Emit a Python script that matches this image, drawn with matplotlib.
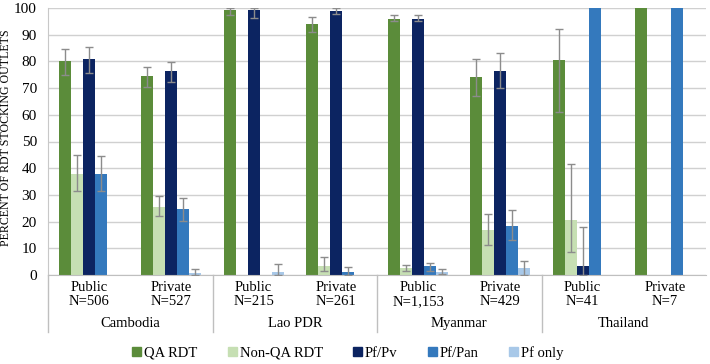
import numpy as np
import matplotlib
matplotlib.use("Agg")
import matplotlib.pyplot as plt
from matplotlib.patches import Patch
import matplotlib.transforms as mtransforms

plt.rcParams['font.family'] = 'serif'
plt.rcParams['font.serif'] = ['Liberation Serif', 'DejaVu Serif']

nan = np.nan
sectors = ['Public', 'Private', 'Public', 'Private', 'Public', 'Private', 'Public', 'Private']
sizes = ['N=506', 'N=527', 'N=215', 'N=261', 'N=1,153', 'N=429', 'N=41', 'N=7']
countries = ['Cambodia', 'Lao PDR', 'Myanmar', 'Thailand']

series = ['QA RDT', 'Non-QA RDT', 'Pf/Pv', 'Pf/Pan', 'Pf only']
colors = ['#5b8c3a', '#c6dfb3', '#0c2461', '#3479bd', '#a8c8e8']

qa = [80, 74.5, 99.3, 94, 96, 74.2, 80.7, 100]
qa_lo = [75, 70.5, 97.5, 91, 95, 67, 61, nan]
qa_hi = [84.5, 78, 100, 96.5, 97.5, 81, 92, nan]

nonqa = [38, 25.5, 0, 3.5, 2.5, 17, 20.7, 0]
nonqa_lo = [31.5, 22, nan, 1.6, 1.4, 11.4, 8.8, nan]
nonqa_hi = [45, 29.5, nan, 6.8, 3.6, 23, 41.6, nan]

pfpv = [81, 76.3, 99.3, 99, 96, 76.4, 3.3, 0]
pfpv_lo = [75.6, 72.3, 96.2, 97.7, 95, 70, 0, nan]
pfpv_hi = [85.5, 79.8, 100, 100, 97.5, 83, 17.9, nan]

pfpan = [37.7, 24.6, 0, 1, 3.3, 18.4, 100, 100]
pfpan_lo = [31.3, 20.4, nan, 0, 1.6, 13.2, nan, nan]
pfpan_hi = [44.6, 28.8, nan, 3.1, 4.6, 24.2, nan, nan]

pfonly = [0, 0.7, 1, 0, 1, 2.8, 0, 0]
pfonly_lo = [nan, 0, 0, nan, 0.4, 0, nan, nan]
pfonly_hi = [nan, 2.1, 4, nan, 2.1, 5.1, nan, nan]

values = [qa, nonqa, pfpv, pfpan, pfonly]
lows = [qa_lo, nonqa_lo, pfpv_lo, pfpan_lo, pfonly_lo]
highs = [qa_hi, nonqa_hi, pfpv_hi, pfpan_hi, pfonly_hi]

fig = plt.figure(figsize=(7.1, 3.64), dpi=100)
ax = fig.add_axes([48 / 710, 89 / 364, 658 / 710, 267 / 364])

x = np.arange(len(sectors))
w = 0.146
for j, (vals, lo, hi) in enumerate(zip(values, lows, highs)):
    xs = x + (j - 2) * w
    vals = np.array(vals, dtype=float)
    lo = np.array(lo, dtype=float)
    hi = np.array(hi, dtype=float)
    ax.bar(xs, vals, w, color=colors[j], zorder=2)
    m = ~np.isnan(lo)
    ax.errorbar(xs[m], vals[m], yerr=[vals[m] - lo[m], hi[m] - vals[m]],
                fmt='none', ecolor='#8c8c8c', elinewidth=1, capsize=3,
                capthick=1, zorder=3)

ax.set_xlim(-0.5, len(sectors) - 0.5)
ax.set_ylim(0, 100)
ax.set_yticks(range(0, 101, 10))
ax.yaxis.grid(True, color='#d0d0d0', linewidth=1, zorder=0)
ax.set_axisbelow(True)
ax.tick_params(axis='y', length=0, labelsize=11, pad=8)
ax.set_xticks([])
for s in ['top', 'right']:
    ax.spines[s].set_visible(False)
ax.spines['left'].set_color('#c8c8c8')
ax.spines['bottom'].set_color('#bfbfbf')
ax.set_ylabel('PERCENT OF RDT STOCKING OUTLETS', fontsize=8.6)
ax.yaxis.set_label_coords(-0.054, 0.515)

trans = mtransforms.blended_transform_factory(ax.transData, ax.transAxes)
for i in x:
    ax.text(i, -0.045, sectors[i], transform=trans, ha='center', va='center', fontsize=10.5)
    ax.text(i, -0.1, sizes[i], transform=trans, ha='center', va='center', fontsize=10.5)
for k, c in enumerate(countries):
    ax.text(2 * k + 0.5, -0.18, c, transform=trans, ha='center', va='center', fontsize=10.5)
for k in range(len(countries)):
    ax.plot([2 * k - 0.5, 2 * k - 0.5], [0, -0.213], transform=trans,
            color='#bfbfbf', linewidth=1, clip_on=False)

handles = [Patch(color=c, label=s) for c, s in zip(colors, series)]
fig.legend(handles=handles, loc='center', bbox_to_anchor=(0.49, 0.03), ncol=5,
           frameon=False, fontsize=10.5, handlelength=0.6, handleheight=0.6,
           handletextpad=0.2, columnspacing=2.1)

fig.savefig('out.png', dpi=100)
